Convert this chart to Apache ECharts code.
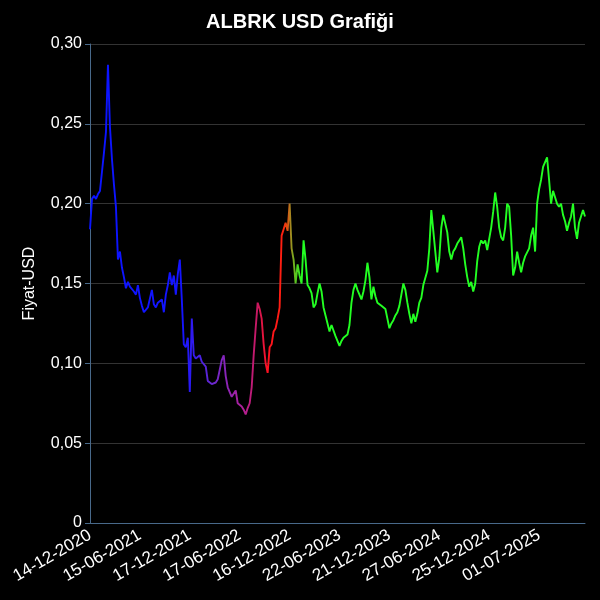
<!DOCTYPE html>
<html>
<head>
<meta charset="utf-8">
<script src="https://cdn.jsdelivr.net/npm/echarts@6/dist/echarts.min.js"></script>
<style>html,body{margin:0;padding:0;background:#000;}#c{width:600px;height:600px;}</style>
</head>
<body>
<div id="c"></div>
<script>
// Tick label dates (every 25th point)
const tickLabels = ['14-12-2020','15-06-2021','17-12-2021','17-06-2022','16-12-2022','22-06-2023','21-12-2023','27-06-2024','25-12-2024','01-07-2025'];
// Price values (USD)
const prices = [
0.184,0.203,0.205,0.203,0.206,0.208,0.220,0.232,0.245,0.287,
0.248,0.228,0.212,0.198,0.165,0.170,0.160,0.154,0.147,0.151,
0.148,0.149,0.145,0.143,0.149,0.141,0.136,0.132,0.133,0.135,
0.134,0.146,0.137,0.135,0.138,0.137,0.140,0.132,0.143,0.149,
0.157,0.149,0.155,0.143,0.156,0.165,0.140,0.112,0.110,0.116,
0.082,0.128,0.105,0.103,0.104,0.105,0.101,0.100,0.098,0.089,
0.090,0.087,0.088,0.088,0.090,0.096,0.102,0.105,0.092,0.085,
0.082,0.079,0.080,0.083,0.075,0.074,0.073,0.071,0.068,0.072,
0.075,0.085,0.105,0.122,0.138,0.134,0.128,0.112,0.100,0.094,
0.110,0.112,0.120,0.122,0.128,0.135,0.180,0.184,0.188,0.183,
0.200,0.172,0.165,0.150,0.162,0.155,0.150,0.177,0.165,0.149,
0.147,0.144,0.135,0.137,0.144,0.150,0.145,0.135,0.130,0.130,
0.120,0.124,0.125,0.117,0.118,0.111,0.114,0.116,0.115,0.118,
0.124,0.138,0.146,0.150,0.146,0.147,0.140,0.145,0.152,0.163,
0.154,0.140,0.148,0.142,0.138,0.137,0.136,0.136,0.134,0.128,
0.122,0.125,0.127,0.130,0.132,0.136,0.143,0.150,0.146,0.138,
0.131,0.125,0.131,0.126,0.131,0.138,0.141,0.149,0.150,0.158,
0.172,0.196,0.183,0.170,0.157,0.166,0.185,0.193,0.194,0.182,
0.170,0.165,0.170,0.172,0.175,0.177,0.179,0.172,0.162,0.154,
0.148,0.151,0.145,0.150,0.164,0.173,0.177,0.175,0.177,0.171,
0.178,0.185,0.195,0.207,0.198,0.185,0.179,0.177,0.185,0.200,
0.198,0.180,0.155,0.160,0.170,0.163,0.157,0.163,0.167,0.168,
0.172,0.180,0.185,0.170,0.200,0.209,0.215,0.223,0.222,0.229,
0.215,0.200,0.208,0.204,0.200,0.198,0.200,0.193,0.189,0.183,
0.188,0.192,0.200,0.185,0.178,0.188,0.192,0.196,0.192
];
const yTicks = [0, 0.05, 0.10, 0.15, 0.20, 0.25, 0.30];

const STEP = 25;
function parseD(s){const p=s.split('-');return Date.UTC(+p[2],+p[1]-1,+p[0]);}
function fmtD(t){const d=new Date(t);const dd=String(d.getUTCDate()).padStart(2,'0');const mm=String(d.getUTCMonth()+1).padStart(2,'0');return dd+'-'+mm+'-'+d.getUTCFullYear();}
const tickTimes = tickLabels.map(parseD);
const categories = prices.map((_, i) => {
  const k = Math.floor(i / STEP), r = i % STEP;
  if (r === 0 && k < tickLabels.length) return tickLabels[k];
  const t0 = tickTimes[Math.min(k, tickTimes.length - 1)];
  const span = k + 1 < tickTimes.length ? tickTimes[k + 1] - tickTimes[k] : 182 * 86400000;
  const base = k < tickTimes.length ? t0 : tickTimes[tickTimes.length - 1] + (k - tickTimes.length + 1) * span;
  return fmtD(base + span * r / STEP);
});

const chart = echarts.init(document.getElementById('c'), null, {renderer: 'canvas'});
chart.setOption({
  backgroundColor: '#000000',
  animation: false,
  title: {
    text: 'ALBRK USD Grafiği',
    left: 'center',
    top: 7,
    textStyle: {color: '#ffffff', fontSize: 20, fontWeight: 'bold', fontFamily: 'Liberation Sans, Arial, sans-serif'}
  },
  grid: {left: 90, right: 15, top: 44, bottom: 77, containLabel: false, outerBoundsMode: 'none'},
  xAxis: {
    type: 'category',
    data: categories,
    boundaryGap: false,
    axisLine: {show: true, lineStyle: {color: '#48698a', width: 1}},
    axisTick: {show: false},
    splitLine: {show: false},
    axisLabel: {
      color: '#ffffff', fontSize: 17, rotate: 30, interval: STEP - 1, margin: 11,
      fontFamily: 'Liberation Sans, Arial, sans-serif'
    }
  },
  yAxis: {
    type: 'value',
    min: 0, max: 0.30, interval: 0.05,
    name: 'Fiyat-USD',
    nameLocation: 'middle',
    nameGap: 52,
    nameRotate: 90,
    nameTextStyle: {color: '#ffffff', fontSize: 16, fontFamily: 'Liberation Sans, Arial, sans-serif'},
    axisLine: {show: true, lineStyle: {color: '#48698a', width: 1}},
    axisTick: {show: true, length: 5, lineStyle: {color: '#48698a'}},
    splitLine: {show: true, lineStyle: {color: '#333333', width: 1}},
    axisLabel: {
      color: '#ffffff', fontSize: 16, margin: 8,
      fontFamily: 'Liberation Sans, Arial, sans-serif',
      formatter: v => {
        const t = yTicks.find(x => Math.abs(x - v) < 1e-9);
        const val = t === undefined ? v : t;
        return val === 0 ? '0' : val.toFixed(2).replace('.', ',');
      }
    }
  },
  series: [{
    type: 'line',
    data: prices,
    showSymbol: false,
    symbol: 'none',
    lineStyle: {
      width: 1.9,
      color: new echarts.graphic.LinearGradient(0, 0, 1, 0, [
        {offset: 0, color: '#0a14ff'},
        {offset: 0.19, color: '#1414ff'},
        {offset: 0.25, color: '#6a28d0'},
        {offset: 0.31, color: '#b0209a'},
        {offset: 0.34, color: '#c81860'},
        {offset: 0.36, color: '#ff1020'},
        {offset: 0.39, color: '#ff2010'},
        {offset: 0.40, color: '#e05010'},
        {offset: 0.405, color: '#b08020'},
        {offset: 0.415, color: '#60c020'},
        {offset: 0.43, color: '#22ff22'},
        {offset: 1, color: '#22ff22'}
      ])
    }
  }]
});
</script>
</body>
</html>
